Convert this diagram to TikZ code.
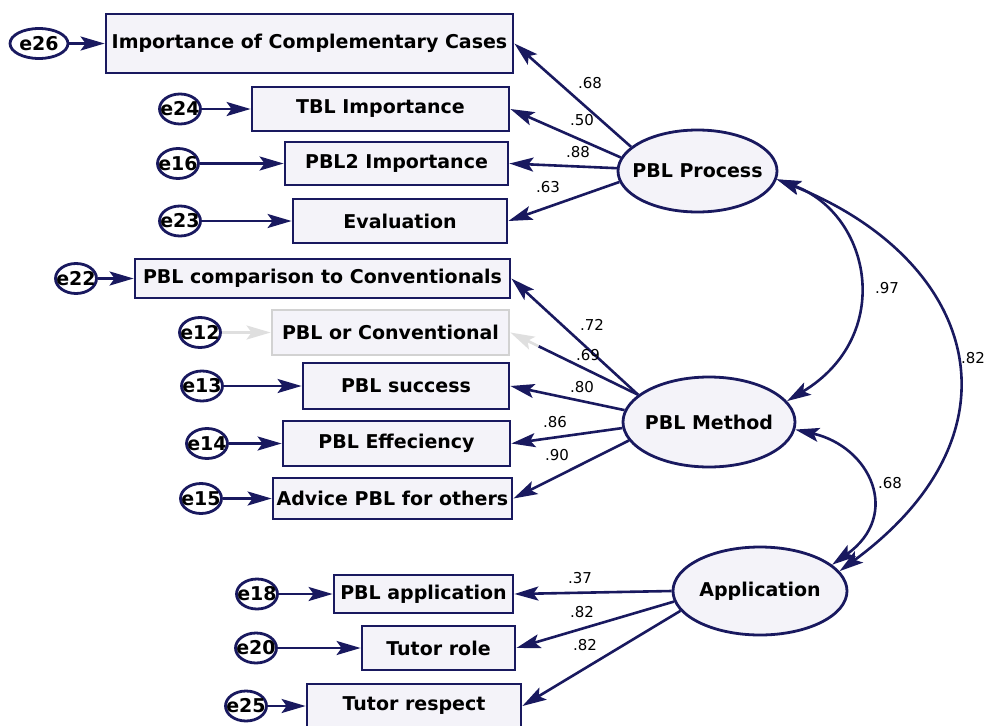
\documentclass[tikz,border=0pt]{standalone}
\usepackage{fontspec}
\setmainfont{DejaVu Sans}
\usepackage{xcolor}
\usetikzlibrary{arrows.meta, shapes.geometric, calc}
\definecolor{amosnavy}{RGB}{25, 25, 95}
\definecolor{boxfill}{RGB}{244, 243, 249}
\newcommand{\tight}[1]{\makebox[0pt]{#1}}

\begin{document}
\begin{tikzpicture}[x=1pt, y=-1pt, >={Stealth[length=24pt, width=14pt, inset=5pt]},
    obs/.style={draw=amosnavy, fill=boxfill, line width=2.8pt, inner sep=0pt, font=\bfseries\fontsize{19}{22}\selectfont},
    lat/.style={ellipse, draw=amosnavy, fill=boxfill, line width=2.8pt, inner sep=0pt, font=\bfseries\fontsize{19}{22}\selectfont},
    err/.style={ellipse, draw=amosnavy, fill=white, line width=2.8pt, inner sep=0pt, minimum width=41pt, minimum height=30pt, font=\bfseries\fontsize{19}{22}\selectfont},
    link/.style={->, draw=amosnavy, line width=2.6pt},
    cov/.style={<->, draw=amosnavy, line width=2.6pt},
    wt/.style={inner sep=0pt, font=\fontsize{15}{18}\selectfont}]
    \fill[white] (0,0) rectangle (986,726);
    \useasboundingbox (0,0) rectangle (986,726);

    \node[obs, minimum width=407pt, minimum height=59pt] (imp) at (309.5,43.5) {Importance of Complementary Cases};
    \node[obs, minimum width=257pt, minimum height=44pt] (tbl) at (380.5,109) {TBL Importance};
    \node[obs, minimum width=223pt, minimum height=43pt] (pbl2) at (396.5,163.5) {PBL2 Importance};
    \node[obs, minimum width=214pt, minimum height=44pt] (eval) at (400,221) {Evaluation};
    \node[obs, minimum width=375pt, minimum height=39pt] (comp) at (322.5,278.5) {PBL comparison to Conventionals};
    \node[obs, draw=gray!35, minimum width=237pt, minimum height=45pt] (orc) at (390.5,332.5) {PBL or Conventional};
    \node[obs, minimum width=206pt, minimum height=46pt] (succ) at (406,386) {PBL success};
    \node[obs, minimum width=227pt, minimum height=45pt] (eff) at (396.5,443.5) {PBL Effeciency};
    \node[obs, minimum width=239pt, minimum height=41pt] (adv) at (392.5,498.5) {Advice PBL for others};
    \node[obs, minimum width=179pt, minimum height=38pt] (papp) at (423.5,594) {PBL application};
    \node[obs, minimum width=153pt, minimum height=44pt] (role) at (438.5,648) {Tutor role};
    \node[obs, minimum width=214pt, minimum height=44pt] (resp) at (414,706) {Tutor respect};

    \node[lat, minimum width=159pt, minimum height=82pt] (proc) at (697.5,171) {\tight{PBL Process}};
    \node[lat, minimum width=172pt, minimum height=90pt] (meth) at (709,422) {\tight{PBL Method}};
    \node[lat, minimum width=174pt, minimum height=88pt] (app) at (760,591) {\tight{Application}};

    \node[err, minimum width=58pt] (e26) at (39,43.5) {\tight{e26}};
    \node[err] (e24) at (180,109) {\tight{e24}};
    \node[err] (e16) at (178,163.5) {\tight{e16}};
    \node[err] (e23) at (180,221) {\tight{e23}};
    \node[err] (e22) at (76,278.5) {\tight{e22}};
    \node[err] (e12) at (200,332.5) {\tight{e12}};
    \node[err] (e13) at (202,386) {\tight{e13}};
    \node[err] (e14) at (207,443.5) {\tight{e14}};
    \node[err] (e15) at (201,498.5) {\tight{e15}};
    \node[err] (e18) at (257,594) {\tight{e18}};
    \node[err] (e20) at (256,648) {\tight{e20}};
    \node[err] (e25) at (246,706) {\tight{e25}};

    \draw[link] (e26) -- (imp);
    \draw[link] (e24) -- (tbl);
    \draw[link] (e16) -- (pbl2);
    \draw[link] (e23) -- (eval);
    \draw[link] (e22) -- (comp);
    \draw[link, draw=gray!25] (e12) -- (orc);
    \draw[link] (e13) -- (succ);
    \draw[link] (e14) -- (eff);
    \draw[link] (e15) -- (adv);
    \draw[link] (e18) -- (papp);
    \draw[link] (e20) -- (role);
    \draw[link] (e25) -- (resp);

    \draw[link] (proc.160) -- (imp.east);
    \draw[link] (proc.170) -- (tbl.east);
    \draw[link] (proc.178) -- (pbl2.east);
    \draw[link] (proc.188) -- (eval.east);
    \draw[link] (meth.159) -- (comp.east);
    \coordinate (fd) at ($(meth.159)!0.78!(orc.east)$);
    \draw[amosnavy, line width=2.6pt] (meth.159) -- (fd);
    \draw[link, draw=gray!25] (fd) -- (orc.east);
    \draw[link] (meth.172) -- (succ.east);
    \draw[link] (meth.184) -- (eff.east);
    \draw[link] (meth.193) -- (adv.east);
    \draw[link] (app.west) -- (papp.east);
    \draw[link] (app.187) -- (role.east);
    \draw[link] (app.194) -- (resp.east);

    \draw[cov] (proc.-6) .. controls +(95,35) and +(108,-65) .. (meth.15);
    \draw[cov] (proc.-6) .. controls +(200,80) and +(190,-140) .. (app.14);
    \draw[cov] (meth.-5) .. controls +(75,17) and +(70,-50) .. (app.20);

    \node[wt] (w1) at (590,83) {.68};
    \node[wt] (w2) at (582,120) {.50};
    \node[wt] (w3) at (578,152) {.88};
    \node[wt] (w4) at (548,187) {.63};
    \node[wt] (w5) at (592,325) {.72};
    \node[wt] (w6) at (588,355) {.69};
    \node[wt] (w7) at (582,387) {.80};
    \node[wt] (w8) at (555,422) {.86};
    \node[wt] (w9) at (557,455) {.90};
    \node[wt] (w10) at (580,578) {.37};
    \node[wt] (w11) at (582,612) {.82};
    \node[wt] (w12) at (585,645) {.82};
    \node[wt] (c1) at (887,288) {.97};
    \node[wt] (c2) at (890,483) {.68};
    \node[wt] (c3) at (973,358) {.82};
\end{tikzpicture}
\end{document}
